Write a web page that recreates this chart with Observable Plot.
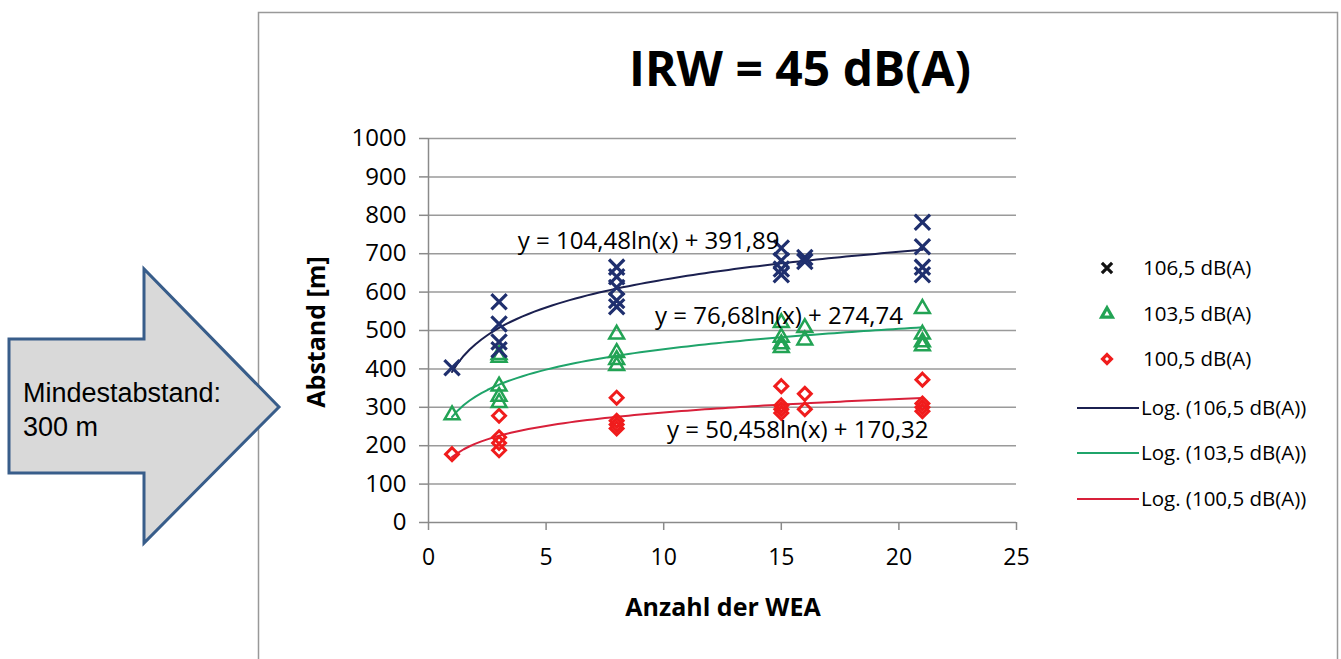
<!DOCTYPE html>
<html><head><meta charset="utf-8">
<script src="https://cdn.jsdelivr.net/npm/d3@7"></script>
<script src="https://cdn.jsdelivr.net/npm/@observablehq/plot@0.6"></script>
<style>
body{margin:0;background:#fff;}
svg{display:block;}
</style></head>
<body><div id="chart"></div>
<script>
// Data
const series = ["106,5 dB(A)", "103,5 dB(A)", "100,5 dB(A)"];
const wea106 = [1,3,3,3,3,8,8,8,8,8,15,15,15,15,16,16,21,21,21,21];
const abs106 = [403,575,517,470,450,665,640,612,578,562,715,682,660,645,690,680,782,718,665,645];
const wea103 = [1,3,3,3,3,3,8,8,8,8,15,15,15,15,16,16,21,21,21,21];
const abs103 = [280,437,430,355,328,312,490,442,424,408,520,482,465,455,507,475,557,490,470,460];
const wea100 = [1,3,3,3,3,8,8,8,8,15,15,15,15,16,16,21,21,21,21];
const abs100 = [178,278,222,207,188,325,265,255,245,355,305,295,285,335,295,372,310,300,290];
// Logarithmic trend coefficients shown in the chart: y = a*ln(x) + b
const trendA = [104.48, 76.68, 50.458];
const trendB = [391.89, 274.74, 170.32];
const trendLabels = ["y = 104,48ln(x) + 391,89", "y = 76,68ln(x) + 274,74", "y = 50,458ln(x) + 170,32"];
const yTicks = [0,100,200,300,400,500,600,700,800,900,1000];
const xTicks = [0,5,10,15,20,25];

const markerColors = ["#1f2f6e", "#22a354", "#f01c1c"];
const lineColors = ["#1b2050", "#1fa46a", "#d8203a"];

const toRows = (xs, ys) => xs.map((x, i) => ({x, y: ys[i]}));
const pts = [toRows(wea106, abs106), toRows(wea103, abs103), toRows(wea100, abs100)];
const trendX = d3.range(1, 21.01, 0.25);
const trends = trendA.map((a, k) => trendX.map(x => ({x, y: a * Math.log(x) + trendB[k]})));

const font = "'Open Sans', sans-serif";
const W = 1341, H = 659;

const plot = Plot.plot({
  width: W, height: H,
  marginLeft: 428, marginRight: 325, marginTop: 138, marginBottom: 137,
  style: {fontFamily: font, fontSize: "22px", color: "#000", background: "transparent"},
  x: {domain: [0, 25]},
  y: {domain: [0, 1000]},
  marks: [
    Plot.ruleY(yTicks.slice(1), {stroke: "#9a9a9a", strokeWidth: 1.5}),
    Plot.axisY({ticks: yTicks, tickFormat: d3.format("d"), tickSize: 9, tickPadding: 13, stroke: "#8a8a8a", strokeWidth: 1.5, label: null, fontSize: 24}),
    Plot.axisX({ticks: xTicks, tickFormat: d3.format("d"), tickSize: 8, tickPadding: 18, stroke: "#8a8a8a", strokeWidth: 1.5, label: null, fontSize: 23}),
    Plot.ruleX([0], {stroke: "#8a8a8a", strokeWidth: 1.5}),
    Plot.ruleY([0], {stroke: "#8a8a8a", strokeWidth: 1.5}),
    Plot.line(trends[0], {x: "x", y: "y", stroke: lineColors[0], strokeWidth: 2}),
    Plot.line(trends[1], {x: "x", y: "y", stroke: lineColors[1], strokeWidth: 2}),
    Plot.line(trends[2], {x: "x", y: "y", stroke: lineColors[2], strokeWidth: 2}),
    Plot.dot(pts[2], {x: "x", y: "y", symbol: "diamond2", r: 5.8, stroke: markerColors[2], strokeWidth: 3, fill: "none"}),
    Plot.dot(pts[1], {x: "x", y: "y", symbol: "triangle", r: 5.5, stroke: markerColors[1], strokeWidth: 2.5, fill: "none"}),
    Plot.dot(pts[0], {x: "x", y: "y", symbol: "times", r: 7, stroke: markerColors[0], strokeWidth: 3.2}),
    Plot.text([trendLabels[0]], {x: 9.36, y: 732, text: d => d, fontSize: 24, fill: "#000"}),
    Plot.text([trendLabels[1]], {x: 14.9, y: 536, text: d => d, fontSize: 24, fill: "#000"}),
    Plot.text([trendLabels[2]], {x: 15.7, y: 240, text: d => d, fontSize: 24, fill: "#000"})
  ]
});

const svg = d3.select(plot);
// chart frame (drawn behind)
svg.insert("rect", ":first-child").attr("x", 258.5).attr("y", 12.5).attr("width", 1079).attr("height", 660)
  .attr("fill", "#fff").attr("stroke", "#999").attr("stroke-width", 1.5);

// titles
svg.append("text").attr("x", 800).attr("y", 86).attr("text-anchor", "middle")
  .attr("font-family", font).attr("font-weight", "bold").attr("font-size", 48).text("IRW = 45 dB(A)");
svg.append("text").attr("x", 723).attr("y", 616).attr("text-anchor", "middle")
  .attr("font-family", font).attr("font-weight", "bold").attr("font-size", 25).text("Anzahl der WEA");
svg.append("text").attr("transform", "translate(325,332) rotate(-90)").attr("text-anchor", "middle")
  .attr("font-family", font).attr("font-weight", "bold").attr("font-size", 25).text("Abstand [m]");

// legend
const lg = svg.append("g").attr("font-family", font).attr("font-size", 20.5).attr("text-anchor", "start");
const symbols = [d3.symbolTimes, d3.symbolTriangle, d3.symbolDiamond2];
const legY = [268, 314, 359];
series.forEach((s, i) => {
  lg.append("path").attr("transform", `translate(1107,${legY[i]})`)
    .attr("d", d3.symbol(symbols[i], i === 0 ? 70 : 50)())
    .attr("fill", "none").attr("stroke", i === 0 ? "#111" : markerColors[i]).attr("stroke-width", 3.2);
  lg.append("text").attr("x", 1143).attr("y", legY[i]).attr("dy", "0.35em").attr("text-anchor", "start").text(s);
});
const lineY = [408, 453, 499];
series.forEach((s, i) => {
  lg.append("line").attr("x1", 1077).attr("x2", 1139).attr("y1", lineY[i]).attr("y2", lineY[i])
    .attr("stroke", lineColors[i]).attr("stroke-width", 2);
  lg.append("text").attr("x", 1141).attr("y", lineY[i]).attr("dy", "0.35em").attr("text-anchor", "start").text("Log. (" + s + ")");
});

// arrow callout
const ag = svg.append("g").attr("text-anchor", "start");
ag.append("path").attr("d", "M9,339 L144,339 L144,269 L279,407 L144,543 L144,473 L9,473 Z")
  .attr("fill", "#d9d9d9").attr("stroke", "#385d8a").attr("stroke-width", 3).attr("stroke-linejoin", "miter");
ag.append("text").attr("x", 23).attr("y", 402).attr("text-anchor", "start").attr("font-family", "'Liberation Sans', Arial, sans-serif")
  .attr("font-size", 27).text("Mindestabstand:");
ag.append("text").attr("x", 23).attr("y", 436).attr("text-anchor", "start").attr("font-family", "'Liberation Sans', Arial, sans-serif")
  .attr("font-size", 27).text("300 m");

document.getElementById("chart").appendChild(plot);
</script>
</body></html>
